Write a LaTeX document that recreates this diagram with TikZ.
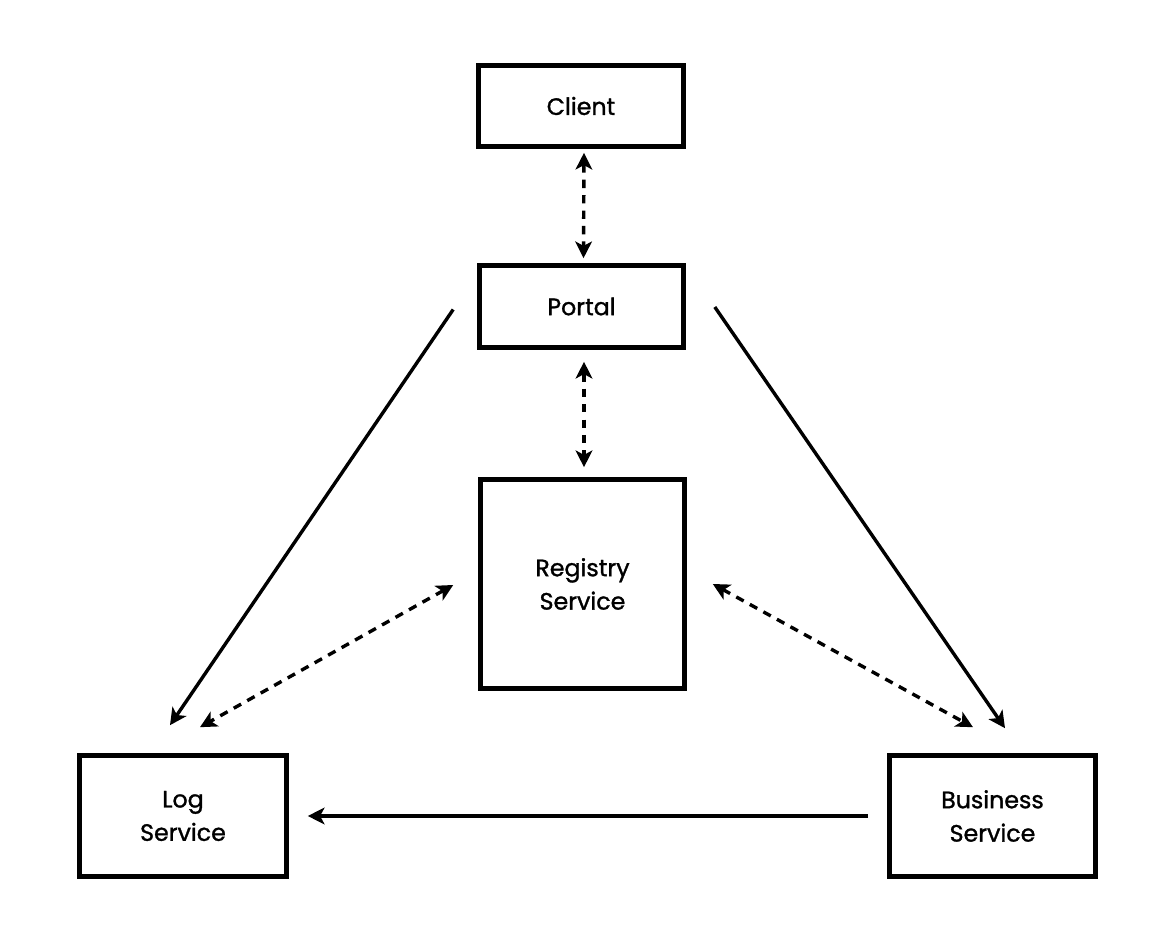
\documentclass[tikz,border=0pt]{standalone}
\usepackage{fontspec}
\setmainfont{Poppins}
\newfontfamily\boxfont{Poppins}[UprightFeatures={FakeBold=1.2}]
\usetikzlibrary{arrows.meta,calc}
\tikzset{
  box/.style={draw=black, line width=4.6*0.569pt, inner sep=0pt, align=center,
    font=\boxfont\fontsize{13.5}{19}\selectfont},
  conn/.style={line width=3.4*0.569pt, -{Stealth[length=9.5pt,width=9.5pt,inset=2.5pt]}},
  dconn/.style={line width=3.4*0.569pt, {Stealth[length=9.5pt,width=9.5pt,inset=2.5pt]}-{Stealth[length=9.5pt,width=9.5pt,inset=2.5pt]},
    dash pattern=on 4.8pt off 4pt},
}
\begin{document}
\begin{tikzpicture}[x=0.02cm,y=-0.02cm]
\useasboundingbox[fill=white] (0,0) rectangle (1174,946);
\node[box, minimum width=205*0.02cm, minimum height=81*0.02cm] (client) at (581,106) {Client};
\node[box, minimum width=204*0.02cm, minimum height=82*0.02cm] (portal) at (581.5,306.5) {Portal};
\node[box, minimum width=204*0.02cm, minimum height=209*0.02cm] (registry) at (582.5,584) {Registry\\Service};
\node[box, minimum width=207*0.02cm, minimum height=121*0.02cm] (log) at (183,816) {Log\\Service};
\node[box, minimum width=206*0.02cm, minimum height=121*0.02cm] (business) at (992.5,816) {Business\\Service};

\coordinate (lsA) at ($(portal.west)+(-24,3)$);
\coordinate (lsB) at ($(log.north)+(-13,-28)$);
\coordinate (rsA) at ($(portal.east)+(29,0.5)$);
\coordinate (rsB) at ($(business.north)+(12.5,-25)$);
\coordinate (ldA) at ($(registry.west)+(-25,1)$);
\coordinate (ldB) at ($(log.north)+(17,-26)$);
\coordinate (rdA) at ($(registry.east)+(26,0)$);
\coordinate (rdB) at ($(business.north)+(-19.5,-26)$);
\coordinate (hA) at ($(business.west)+(-19,0)$);
\coordinate (hB) at ($(log.east)+(19,0)$);

\draw[dconn] ($(client.south)+(3,4)$) -- ($(portal.north)+(2,-5)$);
\draw[dconn] ($(portal.south)+(2.5,12)$) -- ($(registry.north)+(1.5,-10)$);
\draw[conn] (lsA) -- (lsB);
\draw[conn] (rsA) -- (rsB);
\draw[dconn] (ldA) -- (ldB);
\draw[dconn] (rdA) -- (rdB);
\draw[conn] (hA) -- (hB);
\end{tikzpicture}
\end{document}
